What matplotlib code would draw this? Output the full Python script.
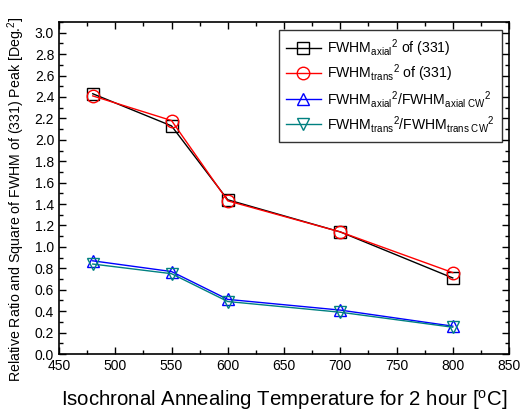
import matplotlib
matplotlib.use('Agg')
import matplotlib.pyplot as plt
from matplotlib.ticker import MultipleLocator

plt.rcParams['font.family'] = ['Liberation Sans', 'DejaVu Sans']
plt.rcParams['mathtext.fontset'] = 'custom'
plt.rcParams['mathtext.rm'] = 'Liberation Sans'
plt.rcParams['mathtext.it'] = 'Liberation Sans'

# annealing temperatures (C)
temps = [480, 550, 600, 700, 800]

# squared FWHM of (331) peak
fwhm_axial_sq = [2.43, 2.13, 1.44, 1.14, 0.71]
fwhm_trans_sq = [2.41, 2.18, 1.43, 1.14, 0.76]

# relative ratios to cold-worked state
ratio_axial = [0.87, 0.77, 0.51, 0.41, 0.26]
ratio_trans = [0.84, 0.75, 0.49, 0.39, 0.25]

labels = [
    r'FWHM$_{\mathrm{axial}}$$^{\mathrm{2}}$ of (331)',
    r'FWHM$_{\mathrm{trans}}$$^{\mathrm{2}}$ of (331)',
    r'FWHM$_{\mathrm{axial}}$$^{\mathrm{2}}$/FWHM$_{\mathrm{axial\ CW}}$$^{\mathrm{2}}$',
    r'FWHM$_{\mathrm{trans}}$$^{\mathrm{2}}$/FWHM$_{\mathrm{trans\ CW}}$$^{\mathrm{2}}$',
]

fig = plt.figure(figsize=(5.2, 4.12), dpi=100)
# axes box: x 59..509 px, y 22..354 px
ax = fig.add_axes([59 / 520, 58 / 412, 450 / 520, 332 / 412])

ms = 9
ax.plot(temps, fwhm_axial_sq, '-s', color='black', mfc='none', ms=ms, lw=1, label=labels[0])
ax.plot(temps, fwhm_trans_sq, '-o', color='red', mfc='none', ms=ms, lw=1, label=labels[1])
ax.plot(temps, ratio_axial, '-^', color='blue', mfc='none', ms=ms, lw=1, label=labels[2])
ax.plot(temps, ratio_trans, '-v', color='#008080', mfc='none', ms=ms, lw=1, label=labels[3])

ax.set_xlim(450, 850)
ax.set_ylim(0, 3.1)
ax.xaxis.set_major_locator(MultipleLocator(50))
ax.xaxis.set_minor_locator(MultipleLocator(25))
ax.yaxis.set_major_locator(MultipleLocator(0.2))
ax.yaxis.set_minor_locator(MultipleLocator(0.1))
ax.yaxis.set_major_formatter(matplotlib.ticker.FormatStrFormatter('%.1f'))
ax.tick_params(which='both', direction='in', top=True, right=True, labelsize=10)
ax.tick_params(which='major', length=5, width=1)
ax.tick_params(which='minor', length=3, width=1)
for s in ax.spines.values():
    s.set_linewidth(1.2)

ax.set_xlabel('Isochronal Annealing Temperature for 2 hour [$^{\\mathrm{o}}$C]', fontsize=14.7, labelpad=11)
ax.set_ylabel('Relative Ratio and Square of FWHM of (331) Peak [Deg.$^{\\mathrm{2}}$]', fontsize=10.2)
ax.yaxis.set_label_coords(-0.07, 0.468)

leg = ax.legend(loc='upper right', bbox_to_anchor=(0.984, 0.976), fontsize=10.1, frameon=True,
                fancybox=False, edgecolor='black', handlelength=2.5, borderpad=0.5,
                labelspacing=0.3, handletextpad=0.45, borderaxespad=0)
leg.get_frame().set_linewidth(1)

fig.savefig('out.png', dpi=100)
